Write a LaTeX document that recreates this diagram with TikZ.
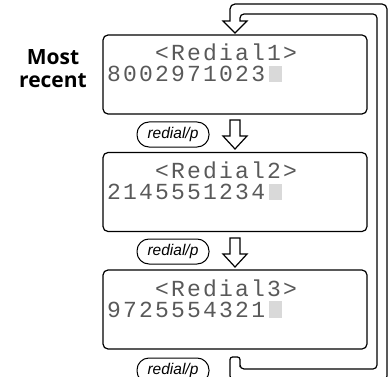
\documentclass[tikz,border=0pt]{standalone}
\usepackage{fontspec}
\setmainfont{Liberation Sans}
\newfontfamily\lcdfont[LetterSpace=9.6]{Liberation Mono}
\newfontfamily\headfont{Open Sans}

\tikzset{
    lcdbox/.style={draw, line width=1.2pt, rounded corners=5pt, minimum width=264pt, minimum height=79pt, inner sep=0pt},
    lcdtext/.style={anchor=base west, inner sep=0pt, text=black!65, font=\lcdfont\fontsize{23}{23}\selectfont},
    cursor/.style={fill=black!15, draw=none},
    keyoval/.style={draw, line width=1pt, rounded corners=12pt, minimum width=72pt, minimum height=25pt, inner sep=0pt, font=\fontsize{15.5}{15.5}\selectfont\itshape},
    band/.style={line width=1.2pt}
}

% hollow down arrow: x of the middle, y of the top
\newcommand{\hollowdown}[2]{
    \draw[band, fill=white] (#1-5,#2) -- (#1+5,#2) -- (#1+5,#2+16) -- (#1+12,#2+16) -- (#1,#2+29) -- (#1-12,#2+16) -- (#1-5,#2+16) -- cycle;
}

\begin{document}
\begin{tikzpicture}[x=1pt, y=-1pt]
    \useasboundingbox (0,0) rectangle (388,377);

    % loop back to the first entry
    \draw[band] (240,363) [rounded corners=2.5pt] -- (240,357) -- (230,357) [rounded corners=5pt] -- (230,381) -- (387,381) -- (387,4) -- (230,4) [sharp corners] -- (230,21) -- (223,21) -- (235,33) -- (247,21) -- (240,21) [rounded corners=4pt] -- (240,14) -- (377,14) -- (377,369) -- (240,369) -- cycle;

    \node[font=\headfont\bfseries\fontsize{21}{21}\selectfont, anchor=base] (most) at (53,65) {Most};
    \node[font=\headfont\bfseries\fontsize{21}{21}\selectfont, anchor=base] (recent) at (53,88) {recent};

    % first entry
    \node[lcdbox] (redial1) at (235,74.5) {};
    \node[lcdtext] (title1) at (155,61) {<Redial1>};
    \node[lcdtext] (number1) at (107,82) {8002971023};
    \fill[cursor] (269,66) rectangle (282,82.5);

    \node[keyoval] (key1) at (173,134.5) {redial/p};
    \hollowdown{235}{120}

    % second entry
    \node[lcdbox] (redial2) at (235,192) {};
    \node[lcdtext] (title2) at (155,178.5) {<Redial2>};
    \node[lcdtext] (number2) at (107,199.5) {2145551234};
    \fill[cursor] (269,183.5) rectangle (282,200);

    \node[keyoval] (key2) at (173,251.5) {redial/p};
    \hollowdown{235}{238}

    % third entry
    \node[lcdbox] (redial3) at (235,309.5) {};
    \node[lcdtext] (title3) at (155,296) {<Redial3>};
    \node[lcdtext] (number3) at (107,317) {9725554321};
    \fill[cursor] (269,301) rectangle (282,317.5);

    \node[keyoval] (key3) at (173,370.5) {redial/p};
\end{tikzpicture}
\end{document}
